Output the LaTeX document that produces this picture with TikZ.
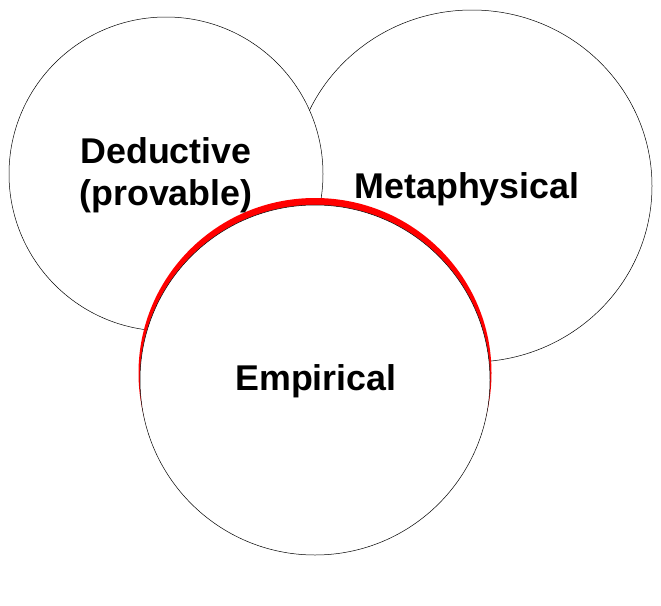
\documentclass[tikz,border=0pt]{standalone}
\usepackage{fontspec}
\setmainfont{Liberation Sans}
\begin{document}
\begin{tikzpicture}[x=1pt, y=-1pt,
                    set/.style={draw=black, fill=white, line width=0.5pt},
                    rim/.style={fill=red},
                    setname/.style={font=\bfseries\fontsize{35.8}{42}\selectfont, align=center, inner sep=0pt, anchor=base}]
\useasboundingbox (0,0) rectangle (661,605);
% the metaphysical set lies beneath the deductive one
\path[set] (472,186) ellipse [x radius=180pt, y radius=176pt];
\path[set] (166,174) circle [radius=157pt];
% red rim on top of the empirical set
\path[rim] (315,373) ellipse [x radius=176.5pt, y radius=175pt];
\path[set] (315,380) circle [radius=175pt];

\node[setname] (deductive) at (166,205) {Deductive\\(provable)};
\node[setname] (metaphysical) at (467,198) {Metaphysical};
\node[setname] (empirical) at (316,390) {Empirical};
\end{tikzpicture}
\end{document}
